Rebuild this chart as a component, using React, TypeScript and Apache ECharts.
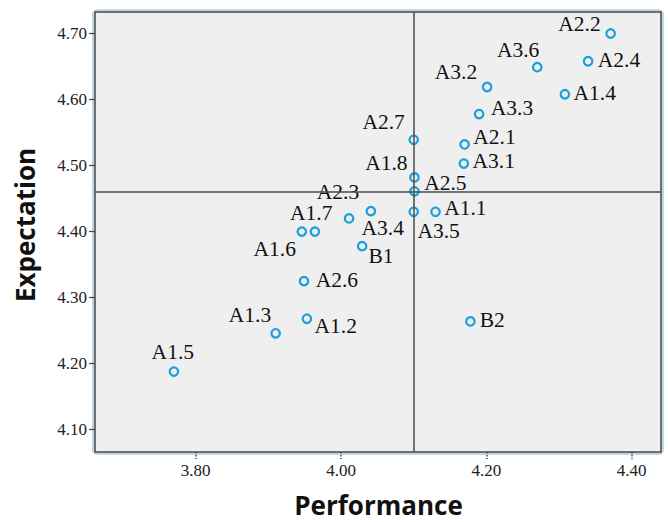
import React, { useEffect, useRef } from "react";
import * as echarts from "echarts";

const names = ["A1.1", "A1.2", "A1.3", "A1.4", "A1.5", "A1.6", "A1.7", "A1.8", "A2.1", "A2.2", "A2.3", "A2.4", "A2.5", "A2.6", "A2.7", "A3.1", "A3.2", "A3.3", "A3.4", "A3.5", "A3.6", "B1", "B2"];
const performance = [4.13, 3.953, 3.91, 4.308, 3.77, 3.946, 3.964, 4.101, 4.17, 4.371, 4.011, 4.34, 4.101, 3.949, 4.1, 4.169, 4.201, 4.19, 4.041, 4.1, 4.27, 4.029, 4.178];
const expectation = [4.43, 4.268, 4.246, 4.608, 4.188, 4.4, 4.4, 4.482, 4.532, 4.7, 4.42, 4.658, 4.461, 4.325, 4.539, 4.503, 4.619, 4.578, 4.431, 4.43, 4.649, 4.378, 4.264];
const xTicks = [3.8, 4.0, 4.2, 4.4];
const yTicks = [4.1, 4.2, 4.3, 4.4, 4.5, 4.6, 4.7];
const refPerformance = 4.1;
const refExpectation = 4.457;
const xTitle = "Performance";
const yTitle = "Expectation";

// label placement (pixel offsets of label centre from point centre)
const labelOffsets: Record<string, [number, number]> = {
  "A1.1": [31, -3], "A1.2": [30, 8], "A1.3": [-24.5, -17], "A1.4": [31, 0], "A1.5": [0, -18],
  "A1.6": [-26, 18], "A1.7": [-2.5, -17.5], "A1.8": [-27, -13], "A2.1": [31, -6], "A2.2": [-30, -8],
  "A2.3": [-10, -25.5], "A2.4": [32, 0], "A2.5": [32, -7], "A2.6": [34, 0], "A2.7": [-29, -17],
  "A3.1": [31, -1], "A3.2": [-30, -14], "A3.3": [34, -5], "A3.4": [13, 18], "A3.5": [26, 20],
  "A3.6": [-18, -16.5], "B1": [20, 11], "B2": [23, 0],
};

const SYMBOL = 8.5;

export default function App() {
  const ref = useRef<HTMLDivElement>(null);
  useEffect(() => {
    if (!ref.current) return;
    const chart = echarts.init(ref.current, undefined, { renderer: "svg" });
    const serif = "'Liberation Serif', 'Times New Roman', serif";
    const data = names.map((n, i) => {
      const off = labelOffsets[n] || [0, 0];
      return {
        name: n,
        value: [performance[i], expectation[i]],
        label: { position: [SYMBOL / 2 + off[0], SYMBOL / 2 + off[1]] },
      };
    });
    chart.setOption({
      animation: false,
      backgroundColor: "#ffffff",
      grid: {
        left: 95, top: 12, right: 7, bottom: 70,
        show: true, backgroundColor: "#efefef", borderColor: "#4a4a4a", borderWidth: 1.5,
      },
      xAxis: {
        type: "value", min: 3.6614, max: 4.4403,
        axisLine: { show: false },
        splitLine: { show: false },
        axisTick: { show: true, customValues: xTicks, length: 7, lineStyle: { color: "#444", type: "dotted", width: 1.5 } },
        axisLabel: {
          customValues: xTicks, margin: 10, color: "#222", fontFamily: serif, fontSize: 17,
          formatter: (v: number) => v.toFixed(2),
        },
      },
      yAxis: {
        type: "value", min: 4.0662, max: 4.7326,
        axisLine: { show: false },
        splitLine: { show: false },
        axisTick: { show: true, customValues: yTicks, length: 6, lineStyle: { color: "#444", width: 1.2 } },
        axisLabel: {
          customValues: yTicks, margin: 8, color: "#222", fontFamily: serif, fontSize: 17,
          formatter: (v: number) => v.toFixed(2),
        },
      },
      graphic: [
        {
          type: "rect", z: -10, silent: true,
          shape: { x: 93.5, y: 10.5, width: 569, height: 443, r: 4 },
          style: { fill: "none", stroke: "#c3d6e3", lineWidth: 3 },
        },
        {
          type: "text", x: 378.5, y: 505,
          style: { text: xTitle, fontFamily: "'Open Sans', sans-serif", fontWeight: "bold", fontSize: 26, fill: "#111", align: "center", verticalAlign: "middle" },
        },
        {
          type: "text", x: 24.5, y: 225, rotation: Math.PI / 2,
          style: { text: yTitle, fontFamily: "'Open Sans', sans-serif", fontWeight: "bold", fontSize: 26, fill: "#111", align: "center", verticalAlign: "middle" },
        },
      ],
      series: [
        {
          type: "scatter",
          data,
          symbol: "circle",
          symbolSize: SYMBOL,
          itemStyle: { color: "rgba(0,0,0,0)", borderColor: "#1d9fdb", borderWidth: 2.2, opacity: 1 },
          label: {
            show: true, formatter: "{b}",
            fontFamily: serif, fontSize: 21.5, lineHeight: 18, color: "#111", align: "center", verticalAlign: "middle",
          },
          labelLayout: { hideOverlap: false },
          markLine: {
            silent: true, symbol: "none", animation: false,
            label: { show: false },
            lineStyle: { color: "#4a4a4a", width: 1.5, type: "solid" },
            data: [{ xAxis: refPerformance }, { yAxis: refExpectation }],
          },
        },
      ],
    });
    return () => chart.dispose();
  }, []);
  return <div ref={ref} style={{ position: "absolute", left: 0, top: 0, width: 668, height: 522 }} />;
}
